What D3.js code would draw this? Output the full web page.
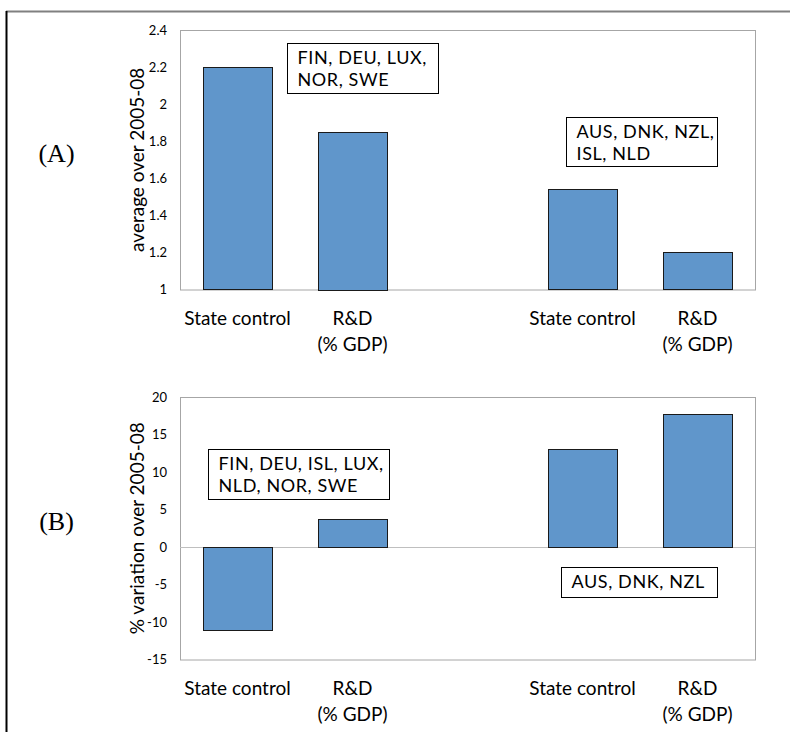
<!DOCTYPE html>
<html>
<head>
<meta charset="utf-8">
<script src="https://cdn.jsdelivr.net/npm/d3@7"></script>
<style>
    html, body { margin: 0; padding: 0; background: #fff; }
</style>
</head>
<body>
<svg class="chart" width="790" height="732"></svg>
<script>
// categories along x: the empty slot is the gap between the two country groups
const categories = ['State control', 'R&D\n(% GDP)', '', 'State control', 'R&D\n(% GDP)'];

// (A) average over 2005-08
const levelValues = [2.20, 1.85, null, 1.54, 1.20];
const levelTicks = [1, 1.2, 1.4, 1.6, 1.8, 2, 2.2, 2.4];
const levelGroups = [['FIN, DEU, LUX,', 'NOR, SWE'], ['AUS, DNK, NZL,', 'ISL, NLD']];

// (B) % variation over 2005-08
const changeValues = [-11.1, 3.7, null, 13.1, 17.7];
const changeTicks = [-15, -10, -5, 0, 5, 10, 15, 20];
const changeGroups = [['FIN, DEU, ISL, LUX,', 'NLD, NOR, SWE'], ['AUS, DNK, NZL']];

const font = 'Lato, "Open Sans", sans-serif';
const textSize = 19;
const boxTextSize = 18;
const tickSize = 13;
const barColor = '#6096cb';

const svg = d3.select('.chart');

// outer frame (only top and left edges are visible)
svg.append('line')
    .attr('x1', 6).attr('x2', 790).attr('y1', 11.5).attr('y2', 11.5)
    .attr('stroke', '#808080').attr('stroke-width', 2);
svg.append('line')
    .attr('x1', 6.5).attr('x2', 6.5).attr('y1', 11).attr('y2', 732)
    .attr('stroke', '#000').attr('stroke-width', 2);

const panels = [
    {
        label: '(A)', labelY: 162,
        title: 'average over 2005-08',
        values: levelValues, ticks: levelTicks, base: 1,
        top: 30, bottom: 289.5,
        groups: levelGroups,
        boxes: [{x: 287, y: 43, w: 151, h: 50}, {x: 566, y: 117, w: 151, h: 49}]
    },
    {
        label: '(B)', labelY: 530,
        title: '% variation over 2005-08',
        values: changeValues, ticks: changeTicks, base: 0,
        top: 397, bottom: 659.5,
        groups: changeGroups,
        boxes: [{x: 208, y: 449, w: 181, h: 50}, {x: 561, y: 567, w: 156, h: 30}]
    }
];

const left = 180, right = 755;

const x = d3.scaleBand()
    .domain(d3.range(categories.length))
    .range([left, right])
    .paddingInner(0.4)
    .paddingOuter(0.2);

panels.forEach(p => {
    const y = d3.scaleLinear()
        .domain(d3.extent(p.ticks))
        .range([p.bottom, p.top]);

    const g = svg.append('g');

    /***
     * plot area
     */
    g.append('rect')
        .attr('x', left + 0.5)
        .attr('y', p.top + 0.5)
        .attr('width', right - left)
        .attr('height', p.bottom - p.top)
        .attr('fill', 'none')
        .attr('stroke', '#a6a6a6');

    if (p.base > y.domain()[0]) {
        g.append('line')
            .attr('x1', left).attr('x2', right)
            .attr('y1', Math.round(y(p.base)) + 0.5).attr('y2', Math.round(y(p.base)) + 0.5)
            .attr('stroke', '#bfbfbf');
    }

    /***
     * bars
     */
    g.append('g')
        .selectAll('rect')
        .data(p.values.map((v, i) => ({i: i, v: v})).filter(d => d.v !== null))
        .enter().append('rect')
        .attr('x', d => Math.round(x(d.i)) + 0.5)
        .attr('y', d => Math.round(y(Math.max(d.v, p.base))) + 0.5)
        .attr('width', Math.round(x.bandwidth()))
        .attr('height', d => Math.round(Math.abs(y(d.v) - y(p.base))))
        .attr('fill', barColor)
        .attr('stroke', '#1a1a1a')
        .attr('stroke-width', 1);

    /***
     * y axis
     */
    const yAxis = g.append('g')
        .attr('transform', `translate(${left},0)`)
        .call(d3.axisLeft(y).tickValues(p.ticks).tickSize(0).tickPadding(13)
            .tickFormat(d => String(+d.toFixed(2))));
    yAxis.select('.domain').remove();
    yAxis.selectAll('text')
        .attr('font-family', font)
        .attr('font-size', tickSize)
        .attr('fill', '#000');

    g.append('text')
        .attr('transform', `translate(144,${(p.top + p.bottom) / 2}) rotate(-90)`)
        .attr('text-anchor', 'middle')
        .attr('font-family', font)
        .attr('font-size', textSize)
        .text(p.title);

    /***
     * category labels
     */
    const xl = g.append('g')
        .selectAll('text')
        .data(categories)
        .enter().append('text')
        .attr('text-anchor', 'middle')
        .attr('font-family', font)
        .attr('font-size', textSize)
        .attr('x', (d, i) => x(i) + x.bandwidth() / 2)
        .attr('y', p.bottom + 35.5);
    xl.selectAll('tspan')
        .data((d, i) => d.split('\n').map(t => ({t: t, x: x(i) + x.bandwidth() / 2})))
        .enter().append('tspan')
        .attr('x', d => d.x)
        .attr('dy', (d, k) => k === 0 ? 0 : 26)
        .text(d => d.t);

    /***
     * country group boxes
     */
    p.boxes.forEach((b, k) => {
        const lines = p.groups[k];
        const box = g.append('g')
            .attr('transform', `translate(${b.x},${b.y})`);
        box.append('rect')
            .attr('x', 0.5).attr('y', 0.5)
            .attr('width', b.w).attr('height', b.h)
            .attr('fill', '#fff')
            .attr('stroke', '#000');
        box.selectAll('text')
            .data(lines)
            .enter().append('text')
            .attr('x', 10.5)
            .attr('y', (d, j) => (lines.length > 1 ? 20.5 : 21) + j * 22)
            .attr('font-family', font)
            .attr('font-size', boxTextSize)
            .attr('letter-spacing', 0.6)
            .text(d => d);
    });

    // panel letter
    svg.append('text')
        .attr('x', 56.5)
        .attr('y', p.labelY)
        .attr('text-anchor', 'middle')
        .attr('font-family', '"Liberation Serif", "Times New Roman", serif')
        .attr('font-size', 26)
        .text(p.label);
});
</script>
</body>
</html>
